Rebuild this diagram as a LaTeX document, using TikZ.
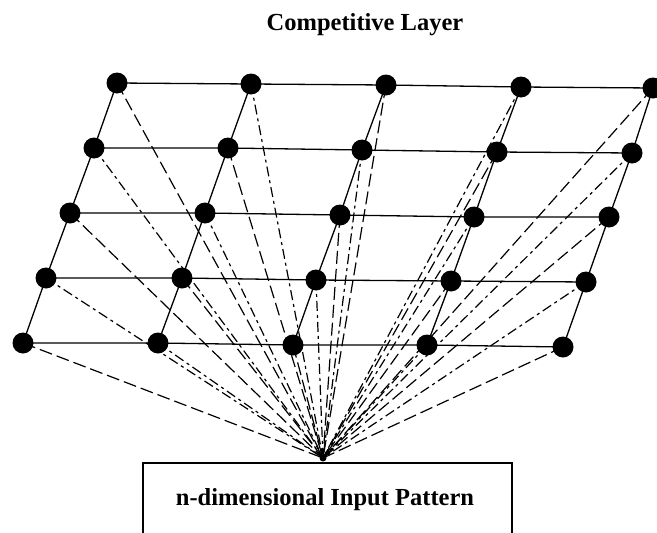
\documentclass[tikz,border=0pt]{standalone}
\usepackage{fontspec}
\setmainfont{Liberation Serif}
\begin{document}
\begin{tikzpicture}[x=1pt,y=-1pt,
  dot/.style={circle,fill=black,inner sep=0pt,minimum size=21pt},
  gridline/.style={line width=1.3pt},
  longdash/.style={line width=1.2pt,dash pattern=on 13pt off 5pt},
  dashdotline/.style={line width=1.2pt,dash pattern=on 10pt off 4pt on 3pt off 4pt},
  lbl/.style={font=\bfseries\fontsize{24.5}{28}\selectfont}]
\useasboundingbox (0,0) rectangle (657,533);
% node positions
\foreach \r/\xa/\xb/\xc/\xd/\xe/\ya/\yb/\yc/\yd/\ye in {
  1/117/251/386/521/653/83/84/85/87/88,
  2/94/228/362/497/632/148/148/150/152/153,
  3/70/205/340/474/609/213/213/215/217/217,
  4/46/182/316/451/586/278/278/280/281/282,
  5/23/158/293/427/563/343/343/345/345/347}{
  \coordinate (n\r-1) at (\xa,\ya);
  \coordinate (n\r-2) at (\xb,\yb);
  \coordinate (n\r-3) at (\xc,\yc);
  \coordinate (n\r-4) at (\xd,\yd);
  \coordinate (n\r-5) at (\xe,\ye);
}
\coordinate (in) at (323,458);
% connectors
\foreach \r in {1,...,5}{
  \foreach \c in {1,...,5}{
    \pgfmathparse{int(mod(\r+\c,2))}
    \ifnum\pgfmathresult=0
      \draw[longdash] (n\r-\c) -- (in);
    \else
      \draw[dashdotline] (n\r-\c) -- (in);
    \fi
  }
}
% grid lines
\foreach \r in {1,...,5}{
  \draw[gridline] (n\r-1) -- (n\r-2) -- (n\r-3) -- (n\r-4) -- (n\r-5);
}
\foreach \c in {1,...,5}{
  \draw[gridline] (n1-\c) -- (n2-\c) -- (n3-\c) -- (n4-\c) -- (n5-\c);
}
% dots
\foreach \r in {1,...,5}{
  \foreach \c in {1,...,5}{
    \node[dot] (d\r-\c) at (n\r-\c) {};
  }
}
\fill (in) circle (3.5pt);
% box
\draw[line width=1.2pt] (143,540) -- (143,463) -- (512,463) -- (512,540);
\node[lbl] (inp) at (325,500) {n-dimensional Input Pattern};
\node[lbl] (title) at (365,25) {Competitive Layer};
\end{tikzpicture}
\end{document}
